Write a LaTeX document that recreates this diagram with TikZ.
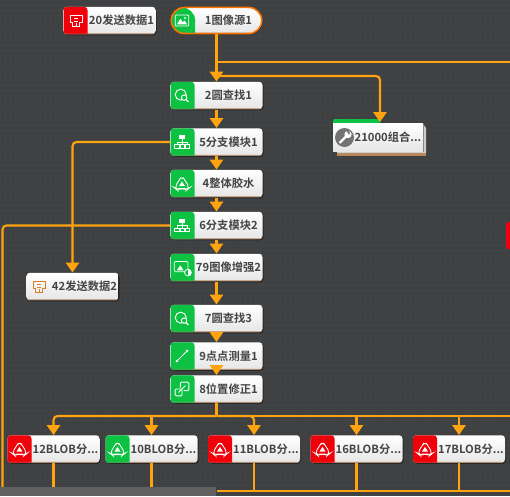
\documentclass[tikz,border=0pt]{standalone}
\usepackage{fontspec}
\setmainfont{Noto Sans CJK SC Bold}
\usetikzlibrary{arrows.meta,shadows,patterns}
\definecolor{bgc}{HTML}{3F4042}
\definecolor{gridc}{HTML}{424345}
\definecolor{org}{HTML}{FFA30F}
\definecolor{grn}{HTML}{0DC143}
\definecolor{redc}{HTML}{F00008}
\definecolor{txt}{HTML}{444447}
\definecolor{brn}{HTML}{B98458}
\tikzset{
 x=0.75pt,y=-0.75pt,
 con/.style={draw=org,line width=1.6pt,rounded corners=3pt},
 arr/.style={con,-{Triangle[width=10pt,length=7.5pt]}},
 modbase/.style={minimum width=69pt,minimum height=20.6pt,inner sep=0pt,rounded corners=2.5pt,
   top color=white,bottom color=white!90!black,text=txt,font=\fontsize{8.45pt}{10pt}\selectfont,
   drop shadow={shadow xshift=.8pt,shadow yshift=-.8pt,opacity=.4,fill=black}},
 mod/.style={modbase,path picture={
   \fill[#1] (path picture bounding box.south west) rectangle ([xshift=18pt]path picture bounding box.north west);
   \fill[brn] (path picture bounding box.south west) rectangle ([yshift=.7pt]path picture bounding box.south east);
   \fill[#1] (path picture bounding box.south west) rectangle ([xshift=18pt,yshift=.7pt]path picture bounding box.south west);}},
 ic/.style={draw=white,line width=.55pt,fill=none},
}
\newcommand{\icimg}[2]{\begin{scope}[shift={(#1,#2)},scale=.85]
 \draw[ic,rounded corners=.8pt] (-8,-6.5) rectangle (8,6.5);
 \fill[white] (-6,4.5) -- (-2,-2) -- (1,2) -- (3,0) -- (6,4.5) -- cycle;
 \fill[white] (3.5,-3) circle (1.3);
\end{scope}}
\newcommand{\icsearch}[2]{\begin{scope}[shift={(#1,#2)},scale=.85]
 \draw[ic,line width=.7pt] (-1.5,-1) circle (6.5);
 \draw[ic,fill=grn,line width=.7pt] (2.5,2.5) circle (3.2);
 \draw[ic,line width=.8pt] (4.8,4.8) -- (7.5,7.5);
\end{scope}}
\newcommand{\ictree}[2]{\begin{scope}[shift={(#1,#2)},scale=.85]
 \fill[white] (-3.5,-8) rectangle (3.5,-3);
 \draw[ic] (0,-3) -- (0,0) (-6,3) -- (-6,0) -- (6,0) -- (6,3) (0,0) -- (0,3);
 \draw[ic] (-8.5,3) rectangle (-3.5,7) (-2.5,3) rectangle (2.5,7) (3.5,3) rectangle (8.5,7);
\end{scope}}
\newcommand{\icblob}[2]{\begin{scope}[shift={(#1,#2)},scale=.85]
 \draw[ic,line width=.65pt,rounded corners=3pt] (0,-9) -- (4,-3) -- (9,5) -- (6,7.5) -- (0,5.5) -- (-6,7.5) -- (-9,5) -- (-4,-3) -- cycle;
 \fill[white] (0,-2.5) -- (3.5,3) -- (-3.5,3) -- cycle;
\end{scope}}
\newcommand{\icsend}[3]{\begin{scope}[shift={(#1,#2)},scale=.85]
 \draw[draw=#3,line width=.65pt] (-4.5,7) -- (-4.5,2) -- (-7,2) -- (-7,-6.5) -- (7,-6.5) -- (7,2) -- (4.5,2) -- (4.5,7) -- cycle;
 \draw[draw=#3,line width=.6pt] (-2,-3) -- (2,-3) (-2,1) -- (2,1) (0,3) -- (0,7);
\end{scope}}
\newcommand{\icenh}[2]{\begin{scope}[shift={(#1,#2)},scale=.85]
 \draw[ic,rounded corners=.8pt] (-9,-7) rectangle (7,5);
 \fill[white] (-6,3.5) -- (-2,-2.5) -- (2,3.5) -- cycle;
 \fill[white] (7,6) circle (4);
 \fill[grn] (7,2) rectangle (3,10);
 \draw[ic] (7,6) circle (4);
\end{scope}}
\newcommand{\icline}[2]{\begin{scope}[shift={(#1,#2)},scale=.85]
 \draw[white,line width=.7pt] (-5,5) -- (5,-5);
 \fill[white] (-6,6) circle (1.6) (6,-6) circle (1.6);
\end{scope}}
\newcommand{\icfix}[2]{\begin{scope}[shift={(#1,#2)},scale=.85]
 \draw[ic,line width=.7pt,rounded corners=.8pt] (-8,0) rectangle (0,8);
 \draw[ic,line width=.7pt,rounded corners=.8pt] (-2,-2) -- (-2,-8) -- (8,-8) -- (8,2) -- (2,2);
 \draw[ic,line width=.7pt] (-4,4) -- (4,-4);
\end{scope}}
\begin{document}
\begin{tikzpicture}
\useasboundingbox (0,0) rectangle (510,496);
\begin{scope}
\clip (0,0) rectangle (510,496);
\fill[bgc] (0,0) rectangle (510,496);
\foreach \g in {0,5,...,510} \draw[gridc,line width=.15pt] (\g,0) -- (\g,496);
\foreach \g in {0,5,...,495} \draw[gridc,line width=.15pt] (0,\g) -- (510,\g);

% nodes
\node[mod=redc] (n20) at (109.5,20.5) {\hspace*{18pt}20发送数据1};
\node[mod=grn,rounded corners=10pt,draw=orange!90!red,line width=1.2pt,minimum width=68pt,minimum height=19.6pt] (n1) at (216.5,20.5) {\hspace*{18pt}1图像源1};
\node[mod=grn] (n2) at (216.5,95.5) {\hspace*{18pt}2圆查找1};
\node[mod=grn] (n5) at (216.5,142) {\hspace*{18pt}5分支模块1};
\node[mod=grn] (n4) at (216.5,183.5) {\hspace*{18pt}4整体胶水};
\node[mod=grn] (n6) at (216.5,225.5) {\hspace*{18pt}6分支模块2};
\node[mod=grn] (n79) at (216.5,267.5) {\hspace*{18pt}79图像增强2};
\node[mod=grn] (n7) at (216.5,318.5) {\hspace*{18pt}7圆查找3};
\node[mod=grn] (n9) at (216.5,356) {\hspace*{18pt}9点点测量1};
\node[mod=grn] (n8) at (216.5,389) {\hspace*{18pt}8位置修正1};
\node[mod={opacity=0}] (n42) at (72.5,286.5) {\hspace*{18pt}42发送数据2};
\node[mod=redc] (n12) at (53.5,449) {\hspace*{18pt}12BLOB分...};
\node[mod=grn] (n10) at (151.5,449) {\hspace*{18pt}10BLOB分...};
\node[mod=redc] (n11) at (254,449) {\hspace*{18pt}11BLOB分...};
\node[mod=redc] (n16) at (356.5,449) {\hspace*{18pt}16BLOB分...};
\node[mod=redc] (n17) at (459,449) {\hspace*{18pt}17BLOB分...};
\node[minimum width=9pt,minimum height=20.6pt,inner sep=0pt,fill=redc,rounded corners=2pt] (nr) at (512,235.5) {};

% 21000 group
\fill[grn,rounded corners=1.5pt] (333,119) rectangle (380,128);
\fill[brn] (337,128) rectangle (426,155.5);
\fill[white!80!black] (337,127) -- (423,124) -- (426,128) -- (426,153) -- (337,153) -- cycle;
\node[modbase,draw=none,minimum width=67.5pt,rounded corners=0pt,drop shadow={opacity=0}] (n21) at (378,137.5) {\hspace*{15pt}21000组合...};
\fill[black!55] (344.5,137.5) circle (9.5);
\draw[white,line width=1.8pt] (339.5,143) -- (347,135.5);
\fill[white] (348,134.5) circle (3.6);
\fill[black!55] (350,132) -- (346.5,130.5) -- (349,135) -- cycle;

% junction coordinates
\coordinate (j1) at (216.5,62);
\coordinate (j2) at (216.5,76);
\coordinate (r1) at (510,62);
\coordinate (t21) at (380,122);
\coordinate (c21) at (380,76);
\coordinate (c42) at (72.5,142);
\coordinate (c6a) at (2.5,225.5);
\coordinate (c6b) at (2.5,490);
\coordinate (j8) at (216.5,416);
\coordinate (r2) at (510,416);
\coordinate (r3) at (510,491);
\coordinate (j3) at (216.5,491);

% connectors
\draw[arr] (n1.south) -- (n2.north);
\draw[con] (j1) -- (r1);
\draw[arr] (j2) -- (c21) -- (t21);
\draw[arr] (n2.south) -- (n5.north);
\draw[arr] (n5.south) -- (n4.north);
\draw[arr] (n4.south) -- (n6.north);
\draw[arr] (n6.south) -- (n79.north);
\draw[arr] (n79.south) -- (n7.north);
\draw[arr] (n7.south) -- (n9.north);
\draw[arr] (n9.south) -- (n8.north);
\draw[arr] (n5.west) -- (c42) -- (n42.north);
\draw[con] (n6.west) -- (c6a) -- (c6b);
\draw[con] (n8.south) -- (j8);
\draw[arr] (j8) -- (53.5,416) -- (n12.north);
\draw[arr] (151.5,416) -- (n10.north);
\draw[arr] (j8) -- (254,416) -- (n11.north);
\draw[arr] (356.5,416) -- (n16.north);
\draw[arr] (459,416) -- (n17.north);
\draw[con,rounded corners=0pt] (j8) -- (r2);
\draw[con] (n12.south) -- (53.5,491);
\draw[con] (n10.south) -- (151.5,491);
\draw[con] (n11.south) -- (254,491);
\draw[con] (n16.south) -- (356.5,491);
\draw[con] (n17.south) -- (459,491);
\draw[con] (j3) -- (r3);

% icons
\icsend{76}{20.5}{white}
\icimg{182}{20.5}
\icsearch{182}{95.5}
\ictree{182}{142}
\icblob{182}{183.5}
\ictree{182}{225.5}
\icenh{182}{267.5}
\icsearch{182}{318.5}
\icline{182}{356}
\icfix{182}{389}
\icsend{39}{286.5}{orange!70!gray}
\icblob{19.5}{449}
\icblob{117.5}{449}
\icblob{220}{449}
\icblob{322.5}{449}
\icblob{425}{449}

% scroll bar
\fill[black!62] (0,487) rectangle (216,496);
\end{scope}
\end{tikzpicture}
\end{document}
